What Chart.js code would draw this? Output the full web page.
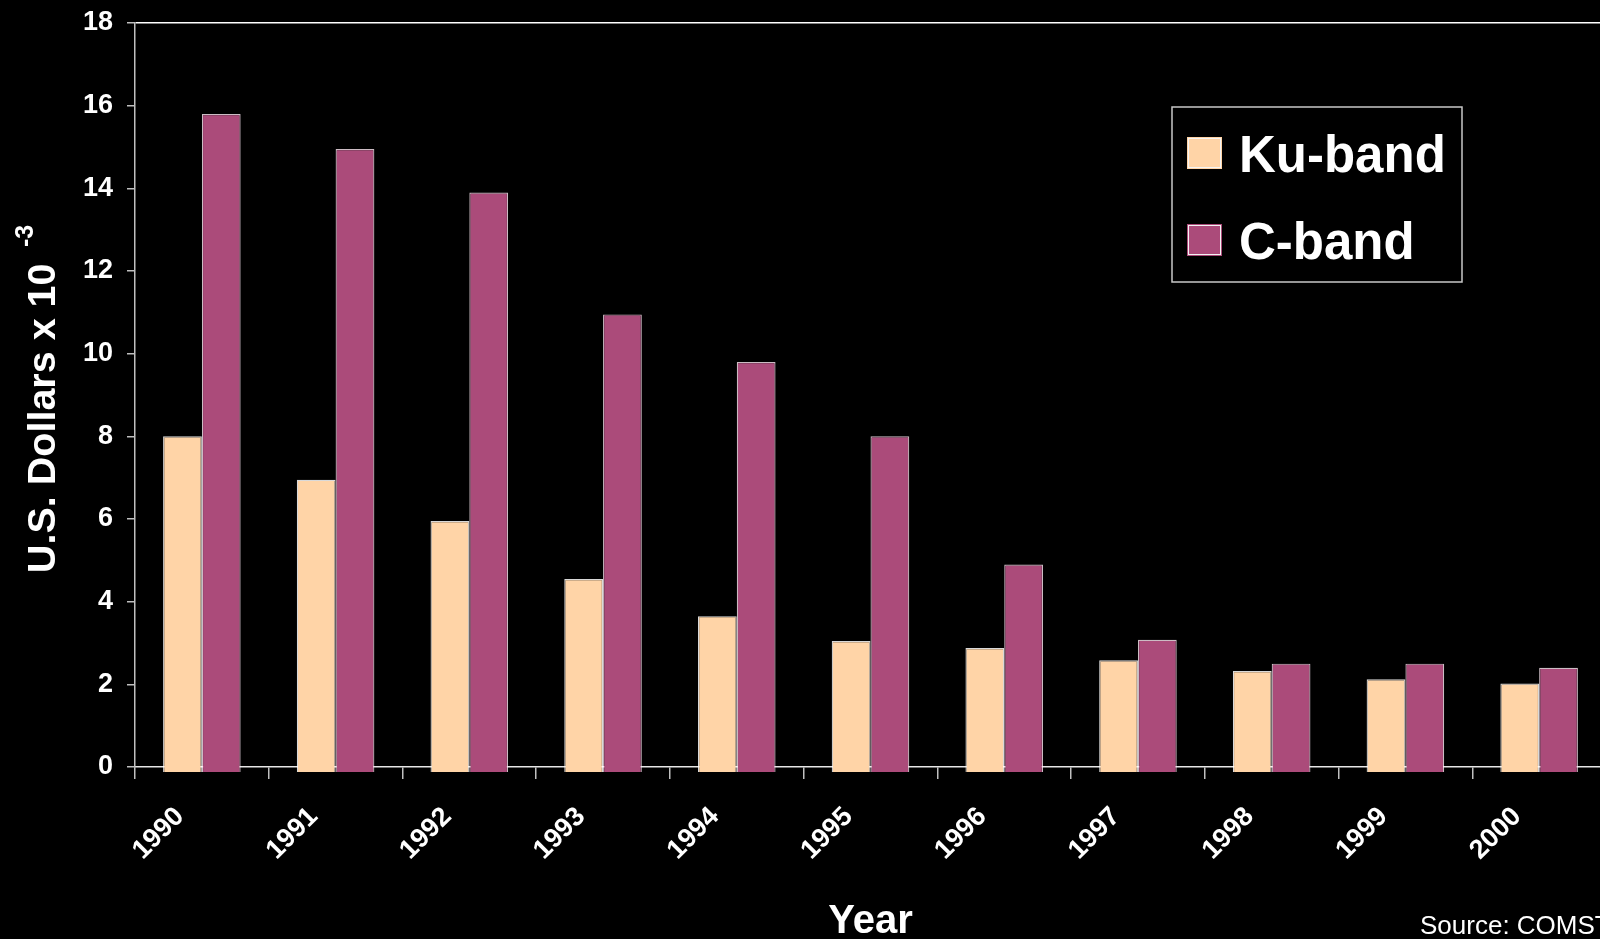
<!DOCTYPE html>
<html>
<head>
<meta charset="utf-8">
<script src="https://cdn.jsdelivr.net/npm/chart.js@4.4.1/dist/chart.umd.min.js"></script>
<style>
  html, body { margin: 0; padding: 0; background: #000; overflow: hidden; }
  #wrap { position: relative; width: 1606px; height: 939px; }
</style>
</head>
<body>
<div id="wrap"><canvas id="c"></canvas></div>
<script>
const years = ['1990','1991','1992','1993','1994','1995','1996','1997','1998','1999','2000'];
const kuBand = [8.0, 6.95, 5.95, 4.55, 3.65, 3.05, 2.88, 2.58, 2.32, 2.12, 2.02];
const cBand = [15.8, 14.95, 13.9, 10.95, 9.8, 8.0, 4.9, 3.08, 2.5, 2.5, 2.4];
const seriesNames = ['Ku-band', 'C-band'];
const yTitleMain = 'U.S. Dollars x 10';
const yTitleExp = '-3';
const xTitle = 'Year';
const sourceText = 'Source: COMSTAT';

const KU_COLOR = '#FFD4A7';
const C_COLOR = '#AB4B7A';
const FONT = '"Liberation Sans", Arial, Helvetica, sans-serif';

const overlayPlugin = {
  id: 'overlay',
  afterDraw(chart) {
    const ctx = chart.ctx;
    ctx.save();
    // Y axis title with superscript
    ctx.fillStyle = '#fff';
    ctx.translate(55, 573);
    ctx.rotate(-Math.PI / 2);
    ctx.font = 'bold 39.5px ' + FONT;
    ctx.textAlign = 'left';
    ctx.textBaseline = 'alphabetic';
    ctx.fillText(yTitleMain, 0, 0);
    ctx.font = 'bold 25px ' + FONT;
    ctx.fillText(yTitleExp, 326, -22);
    ctx.restore();

    // Source note
    ctx.save();
    ctx.fillStyle = '#fff';
    ctx.font = '26px ' + FONT;
    ctx.textAlign = 'left';
    ctx.textBaseline = 'alphabetic';
    ctx.fillText(sourceText, 1420, 934);
    ctx.restore();

    // Legend box
    ctx.save();
    ctx.fillStyle = '#000';
    ctx.fillRect(1172, 107, 290, 175);
    ctx.strokeStyle = '#C8C8C8';
    ctx.lineWidth = 1.5;
    ctx.strokeRect(1172, 107, 290, 175);
    const rows = [{y: 137, base: 172}, {y: 224, base: 259}];
    chart.data.datasets.forEach((ds, i) => {
      const r = rows[i];
      ctx.fillStyle = ds.backgroundColor;
      ctx.fillRect(1187, r.y, 35, 32);
      ctx.strokeStyle = '#F4F4F4';
      ctx.lineWidth = 1;
      ctx.strokeRect(1188.5, r.y + 1.5, 32, 29);
      ctx.fillStyle = '#fff';
      ctx.font = 'bold 51px ' + FONT;
      ctx.textAlign = 'left';
      ctx.textBaseline = 'alphabetic';
      ctx.fillText(ds.label, 1239, r.base);
    });
    ctx.restore();
  }
};

new Chart(document.getElementById('c'), {
  type: 'bar',
  data: {
    labels: years,
    datasets: [
      { label: seriesNames[0], data: kuBand, backgroundColor: KU_COLOR, borderColor: 'rgba(255,255,255,0.85)', borderWidth: 1.2, base: -0.12, clip: false },
      { label: seriesNames[1], data: cBand, backgroundColor: C_COLOR, borderColor: 'rgba(255,235,245,0.8)', borderWidth: 1.2, base: -0.12, clip: false }
    ]
  },
  options: {
    responsive: true,
    maintainAspectRatio: false,
    animation: false,
    layout: { padding: { left: 0, right: 0, top: 0, bottom: 0 } },
    datasets: { bar: { barPercentage: 1.0, categoryPercentage: 0.58 } },
    plugins: {
      legend: { display: false },
      tooltip: { enabled: false },
      title: { display: false }
    },
    scales: {
      x: {
        offset: true,
        grid: { display: true, drawOnChartArea: false, offset: true, tickLength: 12, color: '#BFBFBF', lineWidth: 1.5 },
        border: { display: true, color: '#E6E6E6', width: 1.5 },
        ticks: {
          color: '#fff', font: { family: FONT, size: 27, weight: 'bold' },
          maxRotation: 45, minRotation: 45, padding: 22, labelOffset: -22
        },
        title: { display: true, text: xTitle, color: '#fff', font: { family: FONT, size: 40, weight: 'bold' }, padding: { top: 0, bottom: -7 } },
        afterFit(scale) { scale.height = 172; }
      },
      y: {
        min: 0, max: 18,
        ticks: { stepSize: 2, color: '#fff', font: { family: FONT, size: 27, weight: 'bold' }, padding: 14 },
        grid: {
          drawOnChartArea: true,
          tickLength: 8,
          color: (c) => (c.tick && c.tick.value === 18) ? '#FFFFFF' : 'rgba(0,0,0,0)',
          tickColor: '#BFBFBF',
          lineWidth: 1.5
        },
        border: { display: true, color: '#BFBFBF', width: 1.5 },
        afterFit(scale) { scale.width = 135; scale.paddingTop = 23; scale.paddingBottom = 0; }
      }
    }
  },
  plugins: [overlayPlugin]
});
</script>
</body>
</html>
